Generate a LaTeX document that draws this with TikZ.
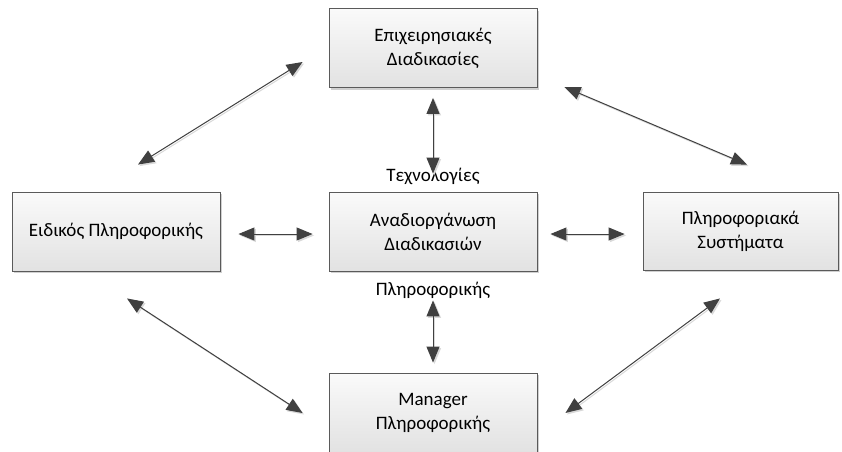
\documentclass[tikz,border=0pt]{standalone}
\usepackage{fontspec}
\setmainfont{Carlito}
\usetikzlibrary{arrows.meta,shadows}

\definecolor{edgegray}{HTML}{5A5A5A}
\definecolor{arrowgray}{HTML}{404040}
\definecolor{boxtop}{HTML}{FAFAFA}
\definecolor{boxbottom}{HTML}{E2E2E2}

\tikzset{
  box/.style={draw=edgegray, line width=0.9pt, rectangle,
    top color=boxtop, bottom color=boxbottom,
    drop shadow={shadow xshift=2pt, shadow yshift=-2pt, fill=black!30, opacity=0.6},
    minimum width=208pt, minimum height=79pt, align=center,
    font=\fontsize{19}{24}\selectfont, text=black, inner sep=0pt},
  label/.style={font=\fontsize{19}{24}\selectfont, inner sep=0pt, anchor=base},
  link/.style={draw=arrowgray, line width=1pt,
    {Triangle[length=16pt,width=13pt]}-{Triangle[length=16pt,width=13pt]},
    preaction={draw=black!15, line width=1pt,
      transform canvas={shift={(1.5pt,-1.5pt)}}}}
}

\begin{document}
\begin{tikzpicture}[x=1pt,y=-1pt]
  \useasboundingbox[fill=white] (0,0) rectangle (842,451);

  % process boxes
  \node[box] (top)   at (433,48)    {Επιχειρησιακές\\Διαδικασίες};
  \node[box] (left)  at (116,231.5) {Ειδικός Πληροφορικής};
  \node[box] (mid)   at (433,231.5) {Αναδιοργάνωση\\Διαδικασιών};
  \node[box, minimum width=195pt, minimum height=78pt] (right) at (740.5,231) {Πληροφοριακά\\Συστήματα};
  \node[box] (bot)   at (433,412.5) {Manager\\Πληροφορικής};

  % captions of the central box
  \node[label] (tech)  at (433,181) {Τεχνολογίες};
  \node[label] (infor) at (433,295) {Πληροφορικής};

  % vertical links
  \draw[link] ([shift={(0,10)}]top.south) -- ([shift={(0,-18)}]mid.north);
  \draw[link] ([shift={(0,29)}]mid.south) -- ([shift={(0,-10)}]bot.north);

  % horizontal links
  \draw[link] ([shift={(18,2.5)}]left.east) -- ([shift={(-16,2.5)}]mid.west);
  \draw[link] ([shift={(13,2.5)}]mid.east) -- ([shift={(-18,3)}]right.west);

  % diagonal links
  \draw[link] ([shift={(22,-27)}]left.north) -- ([shift={(-26,14)}]top.west);
  \draw[link] ([shift={(27,39)}]top.east) -- ([shift={(6.5,-27)}]right.north);
  \draw[link] ([shift={(11,27)}]left.south) -- ([shift={(-26,0.5)}]bot.west);
  \draw[link] ([shift={(-20.5,28)}]right.south) -- ([shift={(28,0.5)}]bot.east);
\end{tikzpicture}
\end{document}
